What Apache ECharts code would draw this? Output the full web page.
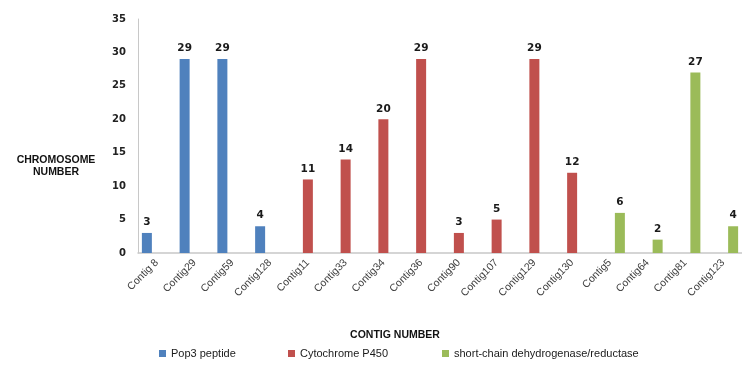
<!DOCTYPE html>
<html>
<head>
<meta charset="utf-8">
<script src="https://cdn.jsdelivr.net/npm/echarts@6/dist/echarts.min.js"></script>
<style>
  html, body { margin: 0; padding: 0; background: #fff; }
  #chart { width: 742px; height: 375px; }
</style>
</head>
<body>
<div id="chart"></div>
<script>
// Contigs along the x axis
const contigs = ['Contig 8', 'Contig29', 'Contig59', 'Contig128', 'Contig11', 'Contig33', 'Contig34', 'Contig36',
  'Contig90', 'Contig107', 'Contig129', 'Contig130', 'Contig5', 'Contig64', 'Contig81', 'Contig123'];

// Chromosome number per contig, one array per gene family ('-' = no value)
const pop3Peptide = [3, 29, 29, 4, '-', '-', '-', '-', '-', '-', '-', '-', '-', '-', '-', '-'];
const cytochromeP450 = ['-', '-', '-', '-', 11, 14, 20, 29, 3, 5, 29, 12, '-', '-', '-', '-'];
const shortChainDR = ['-', '-', '-', '-', '-', '-', '-', '-', '-', '-', '-', '-', 6, 2, 27, 4];

const seriesNames = ['Pop3 peptide', 'Cytochrome P450', 'short-chain dehydrogenase/reductase'];
const seriesColors = ['#4F81BD', '#C0504D', '#9BBB59'];
const yTicks = { min: 0, max: 35, step: 5 };

const chart = echarts.init(document.getElementById('chart'));

const labelStyle = {
  show: true, position: 'top', distance: 5,
  fontFamily: 'DejaVu Sans', fontWeight: 'bold', fontSize: 10.5, color: '#1a1a1a'
};

function barSeries(i, data) {
  return {
    name: seriesNames[i], type: 'bar', data: data,
    barWidth: 10, barGap: '0%',
    itemStyle: { color: seriesColors[i] },
    label: labelStyle
  };
}

function legendAt(i, left) {
  return {
    data: [seriesNames[i]], left: left, top: 343,
    itemWidth: 7, itemHeight: 7, icon: 'rect',
    textStyle: { fontFamily: 'Liberation Sans', fontSize: 11, color: '#1a1a1a' }
  };
}

chart.setOption({
  animation: false,
  title: [
    { text: 'CHROMOSOME\nNUMBER', left: 51, top: 149, textAlign: 'center',
      textStyle: { fontFamily: 'Liberation Sans', fontWeight: 'bold', fontSize: 10.5, color: '#111', lineHeight: 12 } },
    { text: 'CONTIG NUMBER', left: 390, top: 325, textAlign: 'center',
      textStyle: { fontFamily: 'Liberation Sans', fontWeight: 'bold', fontSize: 10.5, color: '#111' } }
  ],
  legend: [legendAt(0, 154), legendAt(1, 283), legendAt(2, 437)],
  grid: { left: 138, right: -4, top: 19, bottom: 122 },
  xAxis: {
    type: 'category', data: contigs,
    axisLine: { lineStyle: { color: '#c8c8c8', width: 1.5 } },
    axisTick: { show: false },
    axisLabel: { rotate: 45, interval: 0, margin: 8,
      fontFamily: 'Liberation Sans', fontSize: 10.5, color: '#404040' }
  },
  yAxis: {
    type: 'value', min: yTicks.min, max: yTicks.max, interval: yTicks.step,
    axisLine: { show: true, lineStyle: { color: '#c8c8c8', width: 1 } },
    axisTick: { show: false },
    splitLine: { show: false },
    axisLabel: { margin: 12, fontFamily: 'DejaVu Sans', fontWeight: 'bold', fontSize: 10, color: '#222' }
  },
  series: [
    barSeries(0, pop3Peptide),
    barSeries(1, cytochromeP450),
    barSeries(2, shortChainDR)
  ]
});
</script>
</body>
</html>
